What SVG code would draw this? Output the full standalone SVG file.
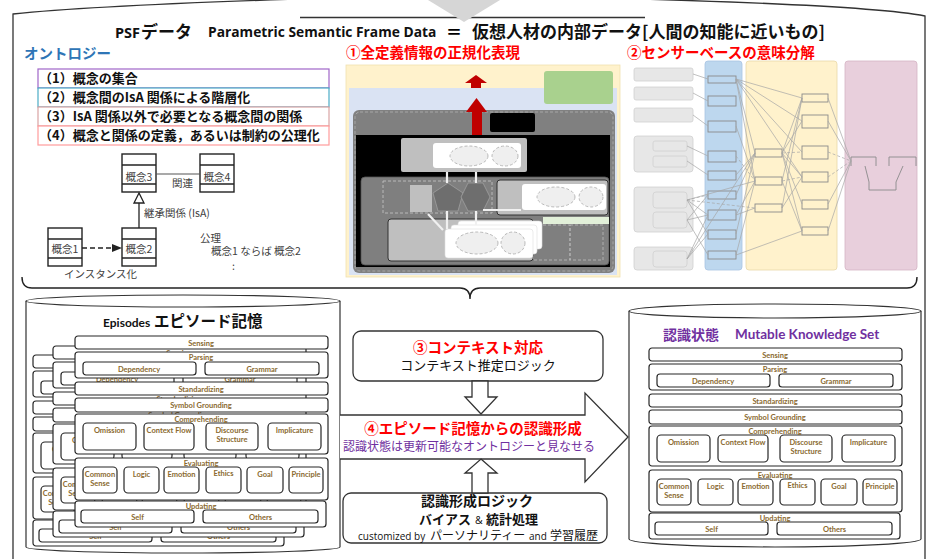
<svg xmlns="http://www.w3.org/2000/svg" width="928" height="559" viewBox="0 0 928 559">
<style>
.jp{font-family:'Noto Sans CJK JP',sans-serif}
.en{font-family:'Open Sans','Noto Sans CJK JP',sans-serif}
.b{font-weight:bold}
.ly{fill:#fff;stroke:#262626;stroke-width:1.2}
.lt{font-family:Lato,'Liberation Sans',sans-serif;font-weight:bold;font-size:7.5px;fill:#8a6a30;text-anchor:middle}
.uml{fill:#fff;stroke:#222;stroke-width:1.4}
.umlt{font-family:'Noto Sans CJK JP',sans-serif;font-size:10.5px;fill:#404040}
.net{stroke:#a6a6a6;stroke-width:0.7;fill:none}
.netd{stroke:#a6a6a6;stroke-width:0.7;fill:none;stroke-dasharray:3 2}
.gb{fill:#e7e7e7;stroke:#d0d0d0;stroke-width:0.8}
.cb{fill:none;stroke:#8a8a8a;stroke-width:0.9}
.ol{fill:#fff;stroke:#333;stroke-width:1.2}
.ha{fill:#fff;stroke:#333;stroke-width:1.3}
</style>
<defs>
<g id="stack">
 <rect class="ly" x="0" y="0" width="253" height="13" rx="3"/>
 <text class="lt" x="126" y="9.5">Sensing</text>
 <rect class="ly" x="0" y="16" width="253" height="26" rx="3"/>
 <rect class="ly" x="8" y="26" width="113" height="13" rx="3"/>
 <rect class="ly" x="130" y="26" width="114" height="13" rx="3"/>
 <text class="lt" x="126" y="24">Parsing</text>
 <text class="lt" x="64" y="35.5">Dependency</text>
 <text class="lt" x="187" y="35.5">Grammar</text>
 <rect class="ly" x="0" y="46" width="253" height="13" rx="3"/>
 <text class="lt" x="126" y="55.5">Standardizing</text>
 <rect class="ly" x="0" y="62" width="253" height="14" rx="3"/>
 <text class="lt" x="126" y="72">Symbol Grounding</text>
 <rect class="ly" x="0" y="78" width="253" height="40" rx="3"/>
 <rect class="ly" x="8" y="87" width="53" height="27" rx="4"/>
 <rect class="ly" x="69" y="87" width="50" height="27" rx="4"/>
 <rect class="ly" x="131" y="87" width="52" height="27" rx="4"/>
 <rect class="ly" x="193" y="87" width="53" height="27" rx="4"/>
 <text class="lt" x="126" y="86">Comprehending</text>
 <text class="lt" x="34.5" y="97">Omission</text>
 <text class="lt" x="94" y="97">Context Flow</text>
 <text class="lt" x="157" y="97">Discourse</text>
 <text class="lt" x="157" y="106">Structure</text>
 <text class="lt" x="219.5" y="97">Implicature</text>
 <rect class="ly" x="0" y="122" width="253" height="42" rx="3"/>
 <rect class="ly" x="8" y="131" width="34" height="26" rx="4"/>
 <rect class="ly" x="49" y="131" width="35" height="26" rx="4"/>
 <rect class="ly" x="89" y="131" width="35" height="26" rx="4"/>
 <rect class="ly" x="131" y="131" width="35" height="26" rx="4"/>
 <rect class="ly" x="172" y="131" width="36" height="26" rx="4"/>
 <rect class="ly" x="214" y="131" width="34" height="26" rx="4"/>
 <text class="lt" x="126" y="130">Evaluating</text>
 <text class="lt" x="25" y="141">Common</text>
 <text class="lt" x="25" y="150">Sense</text>
 <text class="lt" x="66.5" y="141">Logic</text>
 <text class="lt" x="106.5" y="141">Emotion</text>
 <text class="lt" x="148.5" y="140">Ethics</text>
 <text class="lt" x="190" y="141">Goal</text>
 <text class="lt" x="231" y="141">Principle</text>
 <rect class="ly" x="0" y="165" width="251" height="26" rx="3"/>
 <rect class="ly" x="6" y="174" width="113" height="13" rx="3"/>
 <rect class="ly" x="128" y="174" width="115" height="13" rx="3"/>
 <text class="lt" x="126" y="173">Updating</text>
 <text class="lt" x="62.5" y="183.5">Self</text>
 <text class="lt" x="185.5" y="183.5">Others</text>
</g>
<g id="cls">
 <rect class="uml" x="0" y="0" width="34" height="38"/>
 <line x1="0" y1="11" x2="34" y2="11" stroke="#222" stroke-width="1.4"/>
 <line x1="0" y1="30" x2="34" y2="30" stroke="#222" stroke-width="1.4"/>
</g>
</defs>

<!-- outer PSF container -->
<g id="psf-container">
 <rect x="13" y="14" width="912" height="560" fill="#fff"/>
 <path d="M13,559 L13,14 C80,7 200,2 330,-2" fill="none" stroke="#333" stroke-width="1.3"/>
 <path d="M600,-2 C760,2 880,7 925,16 L925,559" fill="none" stroke="#333" stroke-width="1.3"/>
 <path d="M300,17.5 L645,17.5" fill="none" stroke="#333" stroke-width="1.3"/>
 <polygon points="428,0 500,0 464,22" fill="#d6d6d6"/>
 <text x="115" y="38" class="en b" font-size="14.5" fill="#111">PSF</text>
 <text x="141" y="38" class="jp b" font-size="17" fill="#111">データ</text>
 <text x="208" y="37" class="en b" font-size="13.8" fill="#111">Parametric Semantic Frame Data</text>
 <text x="446" y="38" class="jp b" font-size="16">＝</text>
 <text x="472" y="38" class="jp b" font-size="17" fill="#111">仮想人材の内部データ[人間の知能に近いもの]</text>
</g>

<!-- ontology -->
<g id="ontology">
 <text x="24" y="59" class="jp b" font-size="14.5" fill="#2e75b6">オントロジー</text>
 <rect x="38" y="69" width="291" height="19" fill="#fff" stroke="#a066c8" stroke-width="1.2"/>
 <rect x="38" y="88" width="291" height="19" fill="#fff" stroke="#4bacc6" stroke-width="1.2"/>
 <rect x="38" y="107" width="291" height="19" fill="#fff" stroke="#d9a3a3" stroke-width="1.2"/>
 <rect x="38" y="126" width="291" height="19" fill="#fff" stroke="#ff9c9c" stroke-width="1.2"/>
 <g class="jp b" font-size="13" fill="#111">
  <text x="39" y="83">（1）概念の集合</text>
  <text x="39" y="102">（2）概念間のIsA 関係による階層化</text>
  <text x="39" y="121">（3）IsA 関係以外で必要となる概念間の関係</text>
  <text x="39" y="140">（4）概念と関係の定義，あるいは制約の公理化</text>
 </g>
</g>

<g id="uml-concept3"><use href="#cls" x="122" y="154"/><text class="umlt" x="139" y="181" text-anchor="middle">概念3</text></g>
<g id="uml-concept4"><use href="#cls" x="200" y="154"/><text class="umlt" x="217" y="181" text-anchor="middle">概念4</text></g>
<g id="uml-concept1"><use href="#cls" x="48" y="228"/><text class="umlt" x="65" y="253" text-anchor="middle">概念1</text></g>
<g id="uml-concept2"><use href="#cls" x="122" y="228"/><text class="umlt" x="139" y="253" text-anchor="middle">概念2</text></g>
<g id="uml-axiom">
 <text class="umlt" x="200" y="242">公理</text>
 <text class="umlt" x="211" y="255">概念1 ならば 概念2</text>
 <text class="umlt" x="232" y="270" font-size="8">:</text>
</g>

<!-- image 1 -->
<g id="image-normalized">
 <text x="346" y="58" class="jp b" font-size="14.5" fill="#ff0000">①全定義情報の正規化表現</text>
 <rect x="346" y="65" width="274" height="212" fill="#fff2cc" stroke="#efe0b0" stroke-width="0.8"/>
 <rect x="349" y="88" width="268" height="187" fill="#dae3f3"/>
 <rect x="544" y="71" width="69" height="33" rx="3" fill="#a9d18e"/>
 <rect x="353" y="110" width="262" height="163" rx="6" fill="#808080"/>
 <rect x="355" y="112" width="258" height="159" rx="5" fill="none" stroke="#b0b0b0" stroke-width="0.8" stroke-dasharray="3 2"/>
 <rect x="356" y="135" width="254" height="132" fill="#000"/>
 <rect x="490" y="113" width="45" height="19" rx="2" fill="#000"/>
 <polygon points="465,83 476,75 487,83" fill="#c00000"/>
 <rect x="471" y="83" width="10" height="5" fill="#c00000"/>
 <polygon points="466,112 476.5,98 487,112" fill="#c00000"/>
 <rect x="472" y="112" width="10" height="23" fill="#c00000"/>
 <rect x="401" y="138" width="126" height="34" rx="2" fill="#bfbfbf"/>
 <rect x="433" y="143" width="88" height="25" rx="3" fill="#fff"/>
 <ellipse cx="469" cy="156" rx="19" ry="10" fill="#efefef" stroke="#aaa" stroke-width="0.8" stroke-dasharray="3 2"/>
 <ellipse cx="505" cy="156" rx="13" ry="10" fill="#efefef" stroke="#aaa" stroke-width="0.8" stroke-dasharray="3 2"/>
 <rect x="361" y="177" width="248" height="88" rx="4" fill="#7f7f7f" stroke="#555" stroke-width="0.8"/>
 <rect x="383" y="181" width="109" height="32" fill="none" stroke="#c8c8c8" stroke-width="0.8" stroke-dasharray="3 2"/>
 <rect x="410" y="185" width="22" height="27" fill="#bfbfbf"/>
 <polygon points="448,183 463,193 458,211 438,211 433,193" fill="#6e6e6e" stroke="#a0a0a0" stroke-width="0.8"/>
 <polygon points="468,183 483,183 490,197 483,211 468,211 461,197" fill="#6e6e6e" stroke="#a0a0a0" stroke-width="0.8"/>
 <rect x="497" y="180" width="111" height="35" rx="3" fill="#bfbfbf" stroke="#333" stroke-width="1"/>
 <rect x="522" y="184" width="84" height="26" rx="3" fill="#fff"/>
 <ellipse cx="556" cy="197" rx="19" ry="10" fill="#efefef" stroke="#aaa" stroke-width="0.8" stroke-dasharray="3 2"/>
 <ellipse cx="591" cy="197" rx="12" ry="10" fill="#efefef" stroke="#aaa" stroke-width="0.8" stroke-dasharray="3 2"/>
 <rect x="543" y="217" width="66" height="7" fill="#e2f0d9"/>
 <rect x="388" y="219" width="145" height="42" rx="3" fill="#bfbfbf" stroke="#333" stroke-width="1"/>
 <rect x="533" y="225" width="37" height="35" fill="none" stroke="#bdbdbd" stroke-width="0.8" stroke-dasharray="3 2"/>
 <rect x="570" y="225" width="33" height="35" fill="none" stroke="#bdbdbd" stroke-width="0.8" stroke-dasharray="3 2"/>
 <rect x="458" y="221" width="84" height="28" rx="3" fill="#fff" stroke="#ddd" stroke-width="0.6"/>
 <rect x="451" y="225" width="86" height="29" rx="3" fill="#fff" stroke="#ddd" stroke-width="0.6"/>
 <rect x="445" y="229" width="88" height="29" rx="3" fill="#fff" stroke="#ddd" stroke-width="0.6"/>
 <ellipse cx="477" cy="243" rx="21" ry="11" fill="#efefef" stroke="#aaa" stroke-width="0.8" stroke-dasharray="3 2"/>
 <ellipse cx="513" cy="243" rx="12" ry="11" fill="#efefef" stroke="#aaa" stroke-width="0.8" stroke-dasharray="3 2"/>
 <g stroke="#f0f0f0" stroke-width="2.2" fill="none">
  <line x1="447" y1="172" x2="447" y2="183"/>
  <line x1="476" y1="172" x2="476" y2="183"/>
  <line x1="447" y1="211" x2="447" y2="229"/>
  <line x1="476" y1="211" x2="476" y2="225"/>
  <line x1="428" y1="214" x2="443" y2="230"/>
  <line x1="483" y1="210" x2="521" y2="210"/>
 </g>
</g>

<!-- image 2 -->
<g id="image-sensor">
 <text x="627" y="58" class="jp b" font-size="14.5" fill="#ff0000">②センサーベースの意味分解</text>
 <rect x="705" y="61" width="37" height="209" rx="3" fill="#bdd7ee" stroke="#a8c4e2" stroke-width="0.8"/>
 <rect x="746" y="61" width="91" height="209" rx="3" fill="#fff2cc" stroke="#e8d8a8" stroke-width="0.8"/>
 <rect x="845" y="61" width="72" height="209" rx="3" fill="#e8cfdc" stroke="#d4b4c4" stroke-width="0.8"/>
 <rect class="gb" x="634" y="68" width="59" height="13" rx="2"/>
 <rect class="gb" x="634" y="87" width="59" height="13" rx="2"/>
 <rect class="gb" x="634" y="108" width="59" height="14" rx="2"/>
 <rect class="gb" x="634" y="136" width="59" height="36" rx="3"/>
 <rect class="gb" x="653" y="141" width="34" height="10" rx="2" stroke="#c4c4c4"/>
 <rect class="gb" x="653" y="156" width="34" height="11" rx="2" stroke="#c4c4c4"/>
 <rect class="gb" x="634" y="187" width="59" height="45" rx="3"/>
 <rect class="gb" x="653" y="192" width="34" height="16" rx="3" stroke="#c4c4c4"/>
 <rect class="gb" x="653" y="212" width="34" height="16" rx="3" stroke="#c4c4c4"/>
 <rect class="gb" x="634" y="247" width="59" height="23" rx="3"/>
 <rect class="gb" x="653" y="251" width="34" height="16" rx="3" stroke="#c4c4c4"/>
 <g class="cb">
  <rect x="708" y="76" width="28" height="7"/>
  <rect x="708" y="96" width="28" height="10"/>
  <rect x="708" y="121" width="28" height="11"/>
  <rect x="708" y="151" width="28" height="11"/>
  <rect x="708" y="171" width="28" height="9"/>
  <rect x="708" y="191" width="28" height="8"/>
  <rect x="708" y="210" width="28" height="10"/>
  <rect x="708" y="230" width="28" height="9"/>
  <rect x="708" y="251" width="28" height="8"/>
  <rect x="755" y="149" width="27" height="8"/>
  <rect x="755" y="177" width="27" height="8"/>
  <rect x="755" y="204" width="27" height="8"/>
  <rect x="802" y="94" width="26" height="8"/>
  <rect x="802" y="115" width="26" height="13"/>
  <rect x="802" y="146" width="26" height="13"/>
  <rect x="802" y="172" width="26" height="10"/>
  <rect x="802" y="200" width="26" height="9"/>
  <rect x="802" y="227" width="26" height="8"/>
  <path d="M851,166 L851,157 L876,157 L876,166 M889,166 L889,157 L916,157 L916,166 M865,166 L869,182 L869,190 L896,190 L896,182 L903,166"/>
 </g>
 <path class="net" d="M693,74L708,79 M693,93L708,101 M693,115L708,126 M687,146L708,156 M687,161L708,175 M687,200L708,215 M687,200L708,234 M687,200L755,181 M687,220L708,215 M687,220L708,255 M687,220L708,195 M687,259L708,234 M687,259L708,215 M687,259L755,153 M736,79L802,98 M736,79L802,121 M736,79L802,152 M736,79L802,177 M736,79L755,153 M736,79L755,181 M736,126L755,181 M736,175L755,153 M736,195L755,153 M736,215L755,208 M736,215L755,181 M736,234L755,153 M736,255L802,231 M736,255L755,181 M782,153L802,98 M782,153L802,121 M782,153L802,177 M782,153L802,204 M782,181L802,98 M782,181L802,231 M782,208L802,177 M802,98L782,208 M802,231L782,153 M828,98L851,161 M828,121L851,161 M828,204L851,161 M828,231L851,161"/>
 <path class="netd" d="M687,200L708,195 M687,200L755,208 M736,156L755,181 M782,153L802,152 M782,181L802,177 M828,152L851,161 M828,177L851,161"/>
</g>

<!-- connectors -->
<g id="connectors">
 <path d="M22,277 Q22,288 32,288 L460,288 Q470,288 470,299 Q470,288 480,288 L907,288 Q917,288 917,277" fill="none" stroke="#222" stroke-width="1.4"/>
 <line x1="156" y1="174" x2="200" y2="174" stroke="#555" stroke-width="1.2"/>
 <line x1="139" y1="228" x2="139" y2="203" stroke="#222" stroke-width="1.3"/>
 <polygon points="139,193 134,203 144,203" fill="#fff" stroke="#222" stroke-width="1.3"/>
 <line x1="82" y1="248" x2="113" y2="248" stroke="#222" stroke-width="1.3" stroke-dasharray="5 3"/>
 <polygon points="122,248 112,244 112,252" fill="#222"/>
 <text class="umlt" x="172" y="187">関連</text>
 <text class="umlt" x="144" y="217">継承関係 (IsA)</text>
 <text class="umlt" x="64" y="278">インスタンス化</text>
</g>

<!-- episodes cylinder -->
<g id="episodes">
 <path class="ol" d="M26,301 L26,547 A157,6 0 0 0 340,547 L340,301"/>
 <ellipse class="ol" cx="183" cy="301" rx="157" ry="6"/>
 <text x="103" y="327" font-family="Lato,'Liberation Sans',sans-serif" font-weight="bold" font-size="12" fill="#111">Episodes</text>
 <text x="154" y="327" class="jp b" font-size="15.5" fill="#111">エピソード記憶</text>
 <use href="#stack" transform="translate(33,355)"/>
 <use href="#stack" transform="translate(53,346)"/>
 <use href="#stack" transform="translate(75,336)"/>
</g>

<!-- knowledge set cylinder -->
<g id="knowledge-set">
 <path class="ol" d="M629,311 L629,539 A146,8 0 0 0 921,539 L921,311"/>
 <ellipse class="ol" cx="775" cy="311" rx="146" ry="7"/>
 <text x="663" y="340" class="jp b" font-size="14" fill="#7030a0">認識状態</text>
 <text x="735" y="339" font-family="Lato,'Liberation Sans',sans-serif" font-weight="bold" font-size="13.5" fill="#7030a0">Mutable Knowledge Set</text>
 <use href="#stack" transform="translate(649,348)"/>
</g>

<!-- big arrow -->
<g id="formation-arrow">
 <path class="ha" d="M340,415 L585,415 L585,393 L628,437 L585,482 L585,459 L340,459"/>
 <text x="473" y="434" class="jp b" font-size="14.5" fill="#ff0000" text-anchor="middle">④エピソード記憶からの認識形成</text>
 <text x="469" y="451" class="jp" font-size="12" fill="#7030a0" text-anchor="middle">認識状態は更新可能なオントロジーと見なせる</text>
</g>

<g id="context-box">
 <rect class="ha" x="353" y="331" width="250" height="50" rx="8"/>
 <text x="478" y="353" class="jp b" font-size="14.5" fill="#ff0000" text-anchor="middle">③コンテキスト対応</text>
 <text x="478" y="370" class="jp" font-size="13" fill="#111" text-anchor="middle">コンテキスト推定ロジック</text>
</g>
<g id="logic-box">
 <rect class="ha" x="343" y="493" width="264" height="50" rx="8"/>
 <text x="477" y="506" class="jp b" font-size="14" fill="#111" text-anchor="middle">認識形成ロジック</text>
 <text x="419" y="523.5" class="jp b" font-size="13" fill="#111">バイアス</text>
 <text x="475" y="523.5" class="en" font-size="10.5" fill="#111">&amp;</text>
 <text x="486" y="523.5" class="jp b" font-size="13" fill="#111">統計処理</text>
 <text x="358" y="540" class="en" font-size="10" fill="#111">customized by</text>
 <text x="430" y="540" class="jp" font-size="12" fill="#111">パーソナリティー</text>
 <text x="529" y="540" class="en" font-size="10" fill="#111">and</text>
 <text x="550" y="540" class="jp" font-size="12" fill="#111">学習履歴</text>
</g>

<g id="flow-arrows">
 <polygon class="ha" points="472,381 488,381 488,397 497,397 481,414 465,397 472,397"/>
 <polygon class="ha" points="481,459 497,473 488,473 488,493 472,493 472,473 465,473"/>
</g>
</svg>
